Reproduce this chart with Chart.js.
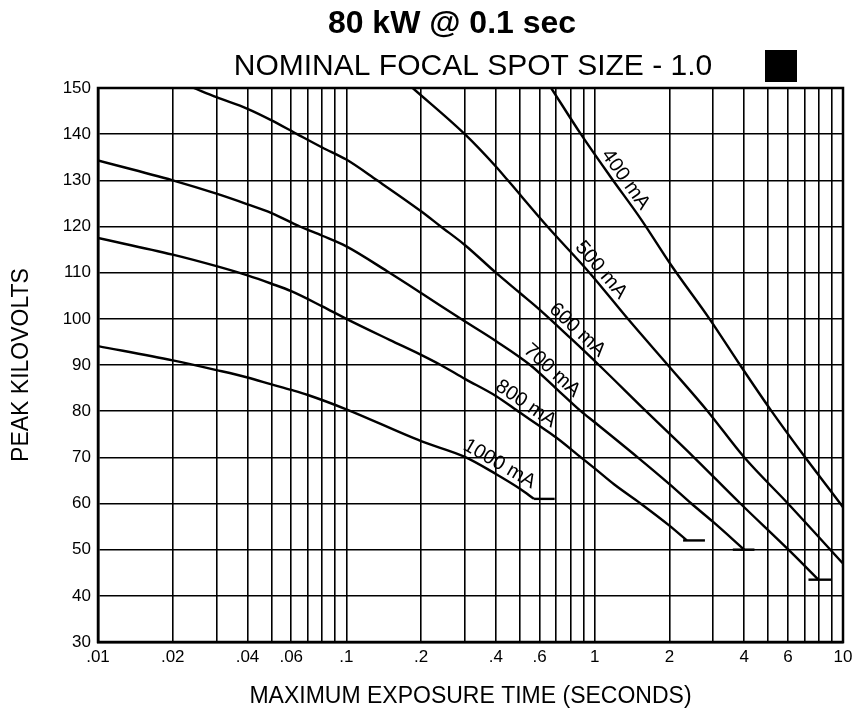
<!DOCTYPE html>
<html>
<head>
    <title>80 kW @ 0.1 sec</title>
    <script src="https://cdn.jsdelivr.net/npm/chart.js"></script>
    <style>
        body { margin: 0; background: #fff; }
        #chartContainer { width: 853px; height: 712px; }
    </style>
</head>
<body>
    <div id="chartContainer">
        <canvas id="myChart" width="853" height="712"></canvas>
    </div>
    <script>
        // exposure time (s) and peak kV
        const t400 = [0.668, 0.88, 1.15, 1.54, 2.04, 2.9, 3.85, 5.08, 6.93, 9.75, 10];
        const kv400 = [150, 140, 131, 121.5, 111.5, 100, 90, 80.5, 70.5, 60, 59.2];

        const t500 = [0.185, 0.3, 0.4, 0.447, 0.645, 0.953, 1.36, 1.97, 2.85, 4.0, 6.0, 10];
        const kv500 = [150, 140, 133, 130, 120, 110, 100, 90, 80, 70, 60, 47];

        const t600 = [0.0243, 0.03, 0.04, 0.05, 0.0634, 0.08, 0.1, 0.133, 0.2, 0.24, 0.3, 0.4, 0.5, 0.6, 0.8, 1.04, 1.61, 2.51, 3.86, 6.03, 7.96];
        const kv600 = [150, 148, 145.5, 143.0, 140, 137.1, 134.5, 130, 123.3, 120, 116.0, 110, 105.6, 102, 95.8, 90, 80, 70, 60, 50, 43.5];

        const t700 = [0.01, 0.02, 0.03, 0.04, 0.05, 0.065, 0.08, 0.1, 0.146, 0.2, 0.289, 0.4, 0.55, 0.7, 0.88, 1.0, 1.49, 2.0, 2.45, 3.0, 4.0];
        const kv700 = [134.3, 130, 127.1, 124.8, 122.9, 120, 118.0, 115.7, 110.3, 105.6, 100, 95.2, 90, 84.9, 80, 77.6, 70, 64.2, 60, 56, 50];

        const t800 = [0.01, 0.02, 0.03, 0.04, 0.05, 0.06, 0.08, 0.1, 0.15, 0.2, 0.24, 0.3, 0.4, 0.5, 0.6, 0.7, 0.88, 1.0, 1.2, 1.53, 2.0, 2.35];
        const kv800 = [117.5, 113.9, 111.4, 109.4, 107.6, 106.0, 102.7, 100, 95.4, 92.2, 90, 87, 83.3, 79.7, 76.8, 74.3, 70, 67.6, 64.1, 60, 55.2, 52];

        const t1000 = [0.01, 0.02, 0.03, 0.04, 0.05, 0.06, 0.07, 0.1, 0.2, 0.3, 0.4, 0.5, 0.57];
        const kv1000 = [94.1, 91.0, 88.9, 87.3, 85.8, 84.6, 83.5, 80.4, 73.5, 70.1, 66.4, 63.2, 61];

        // short end bars: [from, to] seconds at kV
        const capT = [[0.57, 0.69], [2.27, 2.78], [3.6, 4.4], [7.26, 9.0]];
        const capKv = [61, 52, 50, 43.5];

        const curveNames = ['400 mA', '500 mA', '600 mA', '700 mA', '800 mA', '1000 mA'];
        const labelAt = [1.23, 0.985, 0.796, 0.63, 0.50, 0.394]; // seconds where each name sits

        const xGridValues = [0.01, 0.02, 0.03, 0.04, 0.05, 0.06, 0.07, 0.08, 0.09,
                             0.1, 0.2, 0.3, 0.4, 0.5, 0.6, 0.7, 0.8, 0.9,
                             1, 2, 3, 4, 5, 6, 7, 8, 9, 10];
        const xTickValues = [0.01, 0.02, 0.04, 0.06, 0.1, 0.2, 0.4, 0.6, 1, 2, 4, 6, 10];
        const xTickLabels = ['.01', '.02', '.04', '.06', '.1', '.2', '.4', '.6', '1', '2', '4', '6', '10'];

        const curves = [[t400, kv400], [t500, kv500], [t600, kv600], [t700, kv700], [t800, kv800], [t1000, kv1000]];
        const FONT = "'Liberation Sans', Arial, Helvetica, sans-serif";

        const datasets = curves.map(([ts, kvs], i) => ({
            label: curveNames[i],
            data: ts.map((t, j) => ({ x: t, y: kvs[j] })),
            borderColor: '#000',
            borderWidth: 2.4,
            pointRadius: 0,
            cubicInterpolationMode: 'monotone',
            fill: false
        }));
        capT.forEach((pair, i) => {
            datasets.push({
                label: 'cap' + i,
                data: pair.map(t => ({ x: t, y: capKv[i] })),
                borderColor: '#000',
                borderWidth: 2.4,
                pointRadius: 0,
                fill: false
            });
        });

        function kvAt(ts, kvs, t) {
            const lt = Math.log10(t);
            for (let i = 0; i < ts.length - 1; i++) {
                const a = Math.log10(ts[i]), b = Math.log10(ts[i + 1]);
                if (lt >= a && lt <= b) return kvs[i] + (kvs[i + 1] - kvs[i]) * (lt - a) / (b - a);
            }
            return kvs[kvs.length - 1];
        }

        const curveLabels = {
            id: 'curveLabels',
            afterDatasetsDraw(chart) {
                const ctx = chart.ctx, xs = chart.scales.x, ys = chart.scales.y;
                ctx.save();
                ctx.font = '20px ' + FONT;
                ctx.fillStyle = '#000';
                ctx.textAlign = 'center';
                ctx.textBaseline = 'alphabetic';
                curves.forEach(([ts, kvs], i) => {
                    const t = labelAt[i];
                    const x1 = xs.getPixelForValue(t / 1.12), y1 = ys.getPixelForValue(kvAt(ts, kvs, t / 1.12));
                    const x2 = xs.getPixelForValue(t * 1.12), y2 = ys.getPixelForValue(kvAt(ts, kvs, t * 1.12));
                    ctx.save();
                    ctx.translate(xs.getPixelForValue(t), ys.getPixelForValue(kvAt(ts, kvs, t)));
                    ctx.rotate(Math.atan2(y2 - y1, x2 - x1));
                    ctx.fillText(curveNames[i], 0, -5);
                    ctx.restore();
                });
                ctx.restore();
            }
        };

        const frameAndTitles = {
            id: 'frameAndTitles',
            afterDraw(chart) {
                const ctx = chart.ctx, a = chart.chartArea;
                ctx.save();
                ctx.strokeStyle = '#000';
                ctx.lineWidth = 2.5;
                ctx.strokeRect(a.left, a.top, a.right - a.left, a.bottom - a.top);
                ctx.fillStyle = '#000';
                ctx.textAlign = 'center';
                ctx.textBaseline = 'middle';
                ctx.font = 'bold 32px ' + FONT;
                ctx.fillText('80 kW @ 0.1 sec', 452, 24);
                ctx.font = '30px ' + FONT;
                ctx.fillText('NOMINAL FOCAL SPOT SIZE - 1.0', 473, 67);
                ctx.fillRect(765, 50, 32, 32);
                ctx.restore();
            }
        };

        new Chart(document.getElementById('myChart'), {
            type: 'line',
            data: { datasets: datasets },
            options: {
                responsive: false,
                animation: false,
                devicePixelRatio: 1,
                layout: { padding: { top: 88, right: 10, left: 0, bottom: 0 } },
                plugins: {
                    legend: { display: false },
                    tooltip: { enabled: false },
                    title: { display: false }
                },
                scales: {
                    x: {
                        type: 'logarithmic',
                        min: 0.01,
                        max: 10,
                        afterBuildTicks(scale) {
                            scale.ticks = xGridValues.map(v => ({ value: v }));
                        },
                        afterFit(scale) {
                            scale.height = 70;
                            scale.paddingLeft = 0;
                            scale.paddingRight = 0;
                        },
                        ticks: {
                            autoSkip: false,
                            maxRotation: 0,
                            padding: 5,
                            color: '#000',
                            font: { family: FONT, size: 17 },
                            callback(value) {
                                const k = xTickValues.findIndex(v => Math.abs(v - value) < value * 1e-6);
                                return k >= 0 ? xTickLabels[k] : '';
                            }
                        },
                        grid: { color: '#000', lineWidth: 1.6, drawTicks: false },
                        border: { display: true, color: '#000', width: 2.5 },
                        title: {
                            display: true,
                            text: 'MAXIMUM EXPOSURE TIME (SECONDS)',
                            color: '#000',
                            font: { family: FONT, size: 23 },
                            padding: { top: 0, bottom: 2 }
                        }
                    },
                    y: {
                        min: 30,
                        max: 150,
                        afterFit(scale) { scale.width = 98; },
                        ticks: {
                            stepSize: 10,
                            padding: 7,
                            color: '#000',
                            font: { family: FONT, size: 17 }
                        },
                        grid: { color: '#000', lineWidth: 1.6, drawTicks: false },
                        border: { display: true, color: '#000', width: 2.5 },
                        title: {
                            display: true,
                            text: 'PEAK KILOVOLTS',
                            color: '#000',
                            font: { family: FONT, size: 23 },
                            padding: { top: 8, bottom: 0 }
                        }
                    }
                }
            },
            plugins: [curveLabels, frameAndTitles]
        });
    </script>
</body>
</html>
